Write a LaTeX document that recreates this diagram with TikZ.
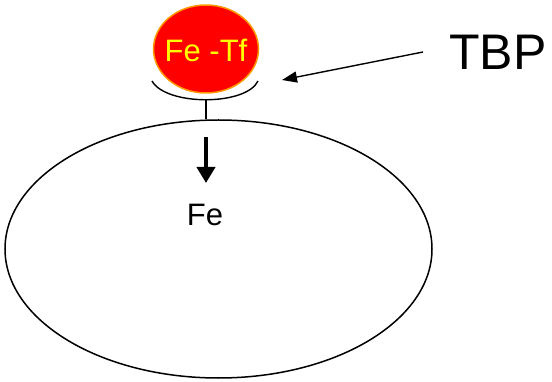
\documentclass[tikz,border=0pt]{standalone}
\usepackage{fontspec}
\setmainfont{Liberation Sans}
\usetikzlibrary{shapes.geometric,arrows.meta}
\definecolor{tfred}{RGB}{255,0,0}
\definecolor{tforange}{RGB}{255,153,0}
\definecolor{tfyellow}{RGB}{255,255,0}
\begin{document}
\begin{tikzpicture}[x=1pt,y=-1pt,
  lbl/.style={inner sep=0pt,font=\fontsize{31}{36}\selectfont},
  thinline/.style={line width=1.4pt,black}]
\useasboundingbox (0,0) rectangle (552,382);
% cell
\node[ellipse,draw,line width=1.5pt,minimum width=427pt,minimum height=258pt,inner sep=0pt] (cell) at (218.5,249) {};
% Fe-Tf
\node[ellipse,draw=tforange,fill=tfred,line width=1.5pt,minimum width=105pt,minimum height=88pt,inner sep=0pt] (fetf) at (206,49) {};
\node[lbl,text=tfyellow] (fetftext) at (206,50) {Fe -Tf};
% receptor cup
\coordinate (cupL) at (152,81);
\coordinate (cupR) at (258,81);
\coordinate (cupB) at (206,99);
\draw[thinline] (cupL) .. controls (166,106) and (246,106) .. (cupR);
\draw[thinline] (cupB) -- (cell.north -| cupB);
% thick arrow
\coordinate (arrS) at (206,137);
\coordinate (arrE) at (206,183);
\draw[line width=4pt,-{Triangle[length=16pt,width=18pt]}] (arrS) -- (arrE);
\node[lbl] (fe) at (205,215) {Fe};
% TBP
\node[inner sep=0pt,font=\fontsize{50}{56}\selectfont] (tbp) at (498,52) {TBP};
\coordinate (tbpTip) at (282,80);
\draw[thinline,-{Triangle[length=15pt,width=11pt]}] (423,52) -- (tbpTip);
\end{tikzpicture}
\end{document}
